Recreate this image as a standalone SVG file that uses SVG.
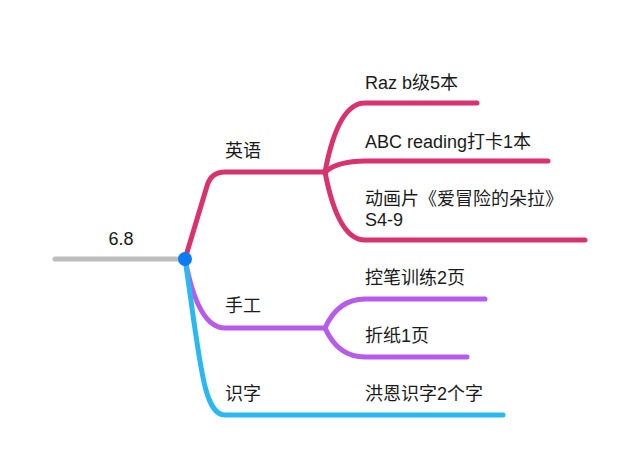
<svg xmlns="http://www.w3.org/2000/svg" width="640" height="472" viewBox="0 0 640 472">
<style>
.t{font-family:"Liberation Sans","Noto Sans CJK SC",sans-serif;font-size:18px;fill:#1a1a1a}
.l{fill:none;stroke-width:5;stroke-linecap:round;stroke-linejoin:round}
.pink{stroke:#D8336F}
.purple{stroke:#B75CEA}
.cyan{stroke:#2BB8F2}
</style>
<rect width="640" height="472" fill="#ffffff"/>
<g id="connectors">
<path class="l" d="M55,259 L185,259" stroke="#BDBDBD"/>
<path class="l pink" d="M185,259 L207,186 Q211,172 225,172 L325,172"/>
<path class="l pink" d="M325,172 Q338,103 365,103 L477,103"/>
<path class="l pink" d="M325,172 Q338,161 365,161 L548,161"/>
<path class="l pink" d="M325,172 Q338,240 365,240 L585,240"/>
<path class="l purple" d="M185,259 Q198,328 225,328 L325,328"/>
<path class="l purple" d="M325,328 Q338,299 365,299 L485,299"/>
<path class="l purple" d="M325,328 Q338,357 365,357 L467,357"/>
<path class="l cyan" d="M185,259 C200,360 203,415 225,415 L503,415"/>
</g>
<g id="root">
<text class="t" x="121" y="245" text-anchor="middle">6.8</text>
<circle cx="185" cy="259" r="7" fill="#0B7BF5"/>
</g>
<g id="english"><text class="t" x="225" y="157">英语</text></g>
<g id="raz"><text class="t" x="365" y="89">Raz b级5本</text></g>
<g id="abc"><text class="t" x="365" y="148">ABC reading打卡1本</text></g>
<g id="dora"><text class="t" x="365" y="205">动画片《爱冒险的朵拉》</text><text class="t" x="365" y="226">S4-9</text></g>
<g id="craft"><text class="t" x="225" y="312">手工</text></g>
<g id="pen"><text class="t" x="365" y="284">控笔训练2页</text></g>
<g id="origami"><text class="t" x="365" y="342">折纸1页</text></g>
<g id="literacy"><text class="t" x="225" y="400">识字</text></g>
<g id="hongen"><text class="t" x="365" y="400">洪恩识字2个字</text></g>
</svg>
